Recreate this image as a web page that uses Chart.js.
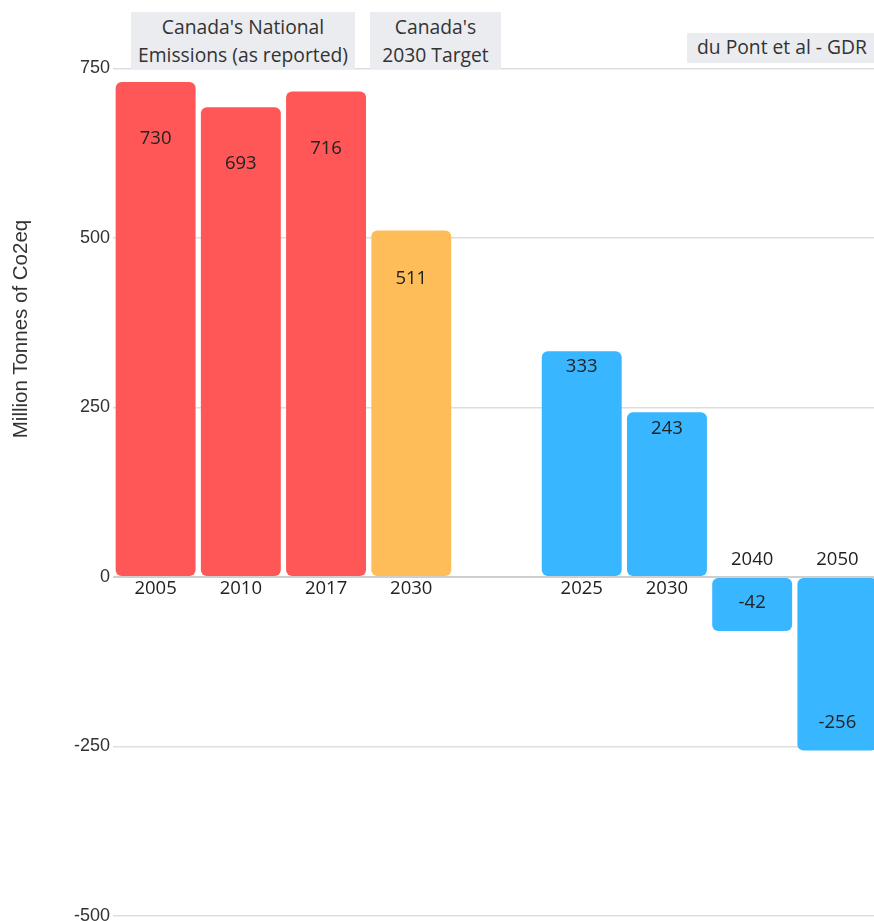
<!DOCTYPE html>
<html>
<head>
<meta charset="utf-8">
<script src="https://cdn.jsdelivr.net/npm/chart.js@4/dist/chart.umd.min.js"></script>
<style>
  html, body { margin: 0; padding: 0; background: #fff; overflow: hidden; }
  #wrap { position: relative; width: 884px; height: 921px; }
  .hdr { position: absolute; background: #ebecef; color: #333; font-family: "Open Sans", sans-serif;
         font-size: 19.3px; line-height: 28px; text-align: center; white-space: nowrap; box-sizing: border-box; }
  #ytitle { position: absolute; left: 20px; top: 329px; width: 300px; margin-left: -150px; margin-top: -12px;
            height: 24px; line-height: 24px; text-align: center; transform: rotate(-90deg);
            font-family: "Liberation Sans", sans-serif; font-size: 20.5px; color: #333; white-space: nowrap; }
</style>
</head>
<body>
<div id="wrap">
  <canvas id="c"></canvas>
  <div class="hdr" style="left:131px; top:12px; width:224px; height:57px; padding-top:1px;">Canada's National<br>Emissions (as reported)</div>
  <div class="hdr" style="left:370px; top:12px; width:131px; height:57px; padding-top:1px;">Canada's<br>2030 Target</div>
  <div class="hdr" style="left:687px; top:33px; width:200px; height:30px; text-align:left; padding-left:10px;">du Pont et al - GDR</div>
  <div id="ytitle"></div>
</div>
<script>
// ---- data ----
const categories = ['2005', '2010', '2017', '2030', '', '2025', '2030', '2040', '2050'];
const emissions  = [730, 693, 716, 511, null, 333, 243, -42, -256];
const groups     = ['reported', 'reported', 'reported', 'target', null, 'gdr', 'gdr', 'gdr', 'gdr'];
const yTicks     = [-500, -250, 0, 250, 500, 750];
const yTitle     = 'Million Tonnes of Co2eq';

document.getElementById('ytitle').textContent = yTitle;

// ---- styles ----
const groupColor = { reported: '#ff5757', target: '#ffbd59', gdr: '#38b6ff' };
const labelOffset = { reported: 57, target: 48, gdr: 16 };

const labelPlugin = {
  id: 'barLabels',
  afterDatasetsDraw(chart) {
    const ctx = chart.ctx;
    const meta = chart.getDatasetMeta(0);
    const zeroY = chart.scales.y.getPixelForValue(0);
    ctx.save();
    ctx.fillStyle = '#222';
    ctx.textAlign = 'center';
    ctx.textBaseline = 'middle';
    ctx.font = '18.5px "Open Sans"';
    meta.data.forEach((bar, i) => {
      const v = emissions[i];
      if (v === null) return;
      const neg = v < 0;
      const vy = neg ? bar.y - 28 : bar.y + labelOffset[groups[i]];
      ctx.fillText(String(v), bar.x, vy);
      const cy = neg ? zeroY - 17 : zeroY + 12;
      ctx.fillText(categories[i], bar.x, cy);
    });
    ctx.restore();
  }
};

new Chart(document.getElementById('c'), {
  type: 'bar',
  data: {
    labels: categories,
    datasets: [{
      data: emissions,
      backgroundColor: groups.map(g => g ? groupColor[g] : 'transparent'),
      borderWidth: 0,
      borderRadius: 6,
      borderSkipped: false,
      minBarLength: 54,
      categoryPercentage: 1,
      barPercentage: 0.938
    }]
  },
  options: {
    responsive: true,
    maintainAspectRatio: false,
    animation: false,
    layout: { padding: { top: 68.5, bottom: 5, right: 4, left: 0 } },
    plugins: { legend: { display: false }, tooltip: { enabled: false } },
    scales: {
      x: { display: false },
      y: {
        min: -500, max: 750,
        afterBuildTicks(scale) { scale.ticks = yTicks.map(v => ({ value: v })); },
        afterFit(scale) { scale.width = 113; scale.paddingTop = 0; scale.paddingBottom = 0; },
        ticks: { color: '#333', font: { family: 'Liberation Sans', size: 18 }, padding: 3 },
        grid: {
          drawTicks: false,
          color: ctx => ctx.tick && ctx.tick.value === 0 ? '#cfcfcf' : '#dedede',
          lineWidth: ctx => ctx.tick && ctx.tick.value === 0 ? 2 : 1.5
        },
        border: { display: false },
        title: { display: false }
      }
    }
  },
  plugins: [labelPlugin]
});
</script>
</body>
</html>
